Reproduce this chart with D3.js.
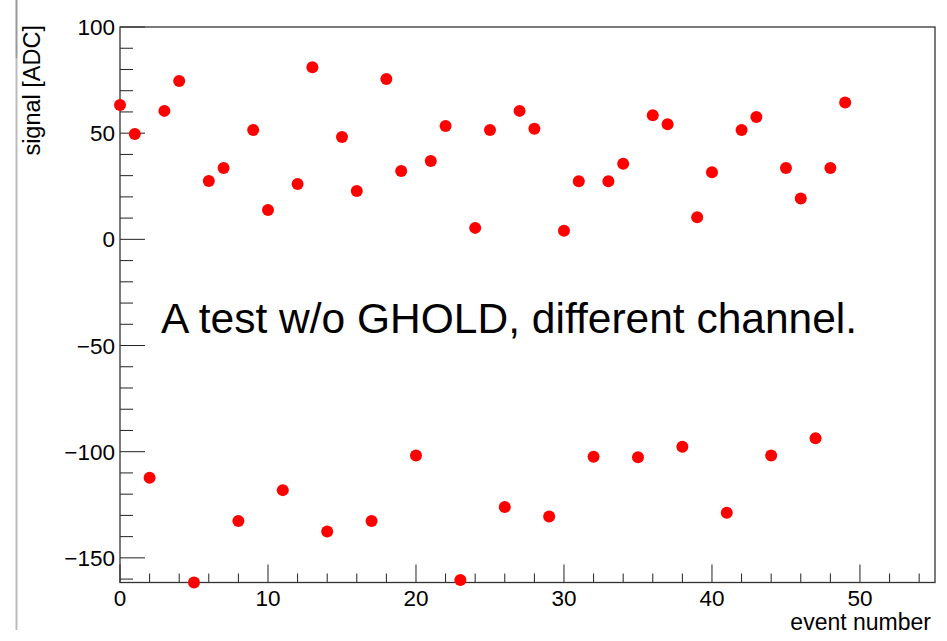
<!DOCTYPE html>
<html><head><meta charset="utf-8">
<script src="https://cdn.jsdelivr.net/npm/d3@7"></script>
<style>body{margin:0;background:#fff}svg{display:block}text{font-family:"Liberation Sans",Arial,sans-serif}</style>
</head><body>
<svg id="c" width="947" height="641"></svg>
<script>
const eventNumbers = d3.range(0, 50);
const signalValues = [63.3, 49.6, -112.3, 60.5, 74.6, -161.6, 27.5, 33.6, -132.6, 51.5,
  13.8, -118.1, 26.1, 81.0, -137.6, 48.2, 22.8, -132.6, 75.5, 32.2,
  -101.8, 36.9, 53.4, -160.4, 5.4, 51.5, -126.1, 60.5, 52.1, -130.5,
  4.1, 27.4, -102.4, 27.4, 35.6, -102.6, 58.4, 54.2, -97.7, 10.4,
  31.6, -128.7, 51.5, 57.6, -101.8, 33.6, 19.2, -93.7, 33.6, 64.5];
const xTicks = [0, 10, 20, 30, 40, 50];
const yTicks = [-150, -100, -50, 0, 50, 100];
const xLabel = "event number";
const yLabel = "signal [ADC]";
const note = "A test w/o GHOLD, different channel.";

const svg = d3.select("#c");
const L = 120, R = 935, T = 27, B = 582.5;
const x = d3.scaleLinear().domain([0, 55.07]).range([L, R]);
const y = d3.scaleLinear().domain([-161.6, 100]).range([B, T]);

// window edge artifact
svg.append("line").attr("x1",16.5).attr("x2",16.5).attr("y1",0).attr("y2",58).attr("stroke","#999").attr("stroke-width",2);
svg.append("line").attr("x1",16.5).attr("x2",16.5).attr("y1",58).attr("y2",630).attr("stroke","#bbb").attr("stroke-width",2);

const axisColor = "#222";
// x axis
const xMinor = d3.range(0, 55.07, 2).filter(v => v % 10 !== 0);
const gx = svg.append("g");
gx.selectAll("line.maj").data(xTicks).join("line")
  .attr("x1", d=>x(d)).attr("x2", d=>x(d)).attr("y1", B).attr("y2", B-18)
  .attr("stroke", axisColor).attr("stroke-width", 1);
gx.selectAll("line.min").data(xMinor).join("line")
  .attr("x1", d=>x(d)).attr("x2", d=>x(d)).attr("y1", B).attr("y2", B-9)
  .attr("stroke", axisColor).attr("stroke-width", 1);
gx.selectAll("text").data(xTicks).join("text")
  .attr("x", d=>x(d)).attr("y", 606).attr("text-anchor","middle")
  .attr("font-size", 22.5).attr("fill","#000").text(d=>d);

// y axis
const yMinor = d3.range(-160, 100.1, 10).filter(v => v % 50 !== 0);
const gy = svg.append("g");
gy.selectAll("line.maj").data(yTicks).join("line")
  .attr("x1", L).attr("x2", L+25).attr("y1", d=>y(d)).attr("y2", d=>y(d))
  .attr("stroke", axisColor).attr("stroke-width", 1);
gy.selectAll("line.min").data(yMinor).join("line")
  .attr("x1", L).attr("x2", L+13).attr("y1", d=>y(d)).attr("y2", d=>y(d))
  .attr("stroke", axisColor).attr("stroke-width", 1);
gy.selectAll("text").data(yTicks).join("text")
  .attr("x", 115).attr("y", d=>y(d)+8).attr("text-anchor","end")
  .attr("font-size", 22.5).attr("fill","#000")
  .text(d => d < 0 ? "\u2212" + Math.abs(d) : d);

// frame
svg.append("rect").attr("x", L).attr("y", T).attr("width", R-L).attr("height", B-T)
  .attr("fill","none").attr("stroke", "#333").attr("stroke-width", 1.3);

// labels
svg.append("text").attr("x", 931).attr("y", 630).attr("text-anchor","end")
  .attr("font-size", 23).attr("fill","#000").text(xLabel);
svg.append("text").attr("transform","translate(40,25) rotate(-90)").attr("text-anchor","end")
  .attr("font-size", 23.5).attr("fill","#000").text(yLabel);

// points
svg.append("g").selectAll("circle").data(eventNumbers).join("circle")
  .attr("cx", d=>x(d)).attr("cy", d=>y(signalValues[d])).attr("r", 6)
  .attr("fill", "#ff0000");

// annotation
svg.append("text").attr("x", 161).attr("y", 333).attr("font-size", 42.5)
  .attr("fill","#000").text(note);
</script>
</body></html>
